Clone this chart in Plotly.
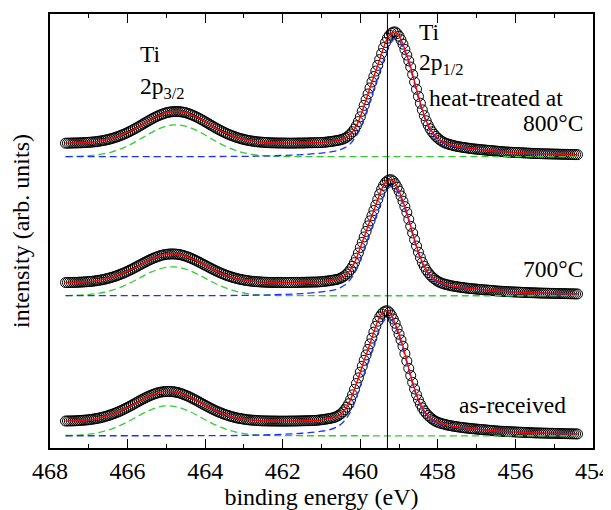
import numpy as np
import plotly.graph_objects as go

# ---------------- data (intensity above each spectrum's baseline, arb. units) -------------
# binding-energy sampling grid of the measured spectra (eV): 467.6 -> 454.4, 0.05 eV step
E_START, E_STEP, N_PTS = 467.6, 0.05, 265
energy = np.round(E_START - E_STEP * np.arange(N_PTS), 2)

data_800 = [
    13.5, 13.55, 13.6, 13.65, 13.7, 13.75, 13.8, 13.85, 13.9, 14.0,
    14.1, 14.25, 14.4, 14.55, 14.7, 14.9, 15.1, 15.4, 15.7, 16.05,
    16.4, 16.8, 17.2, 17.75, 18.3, 18.9, 19.5, 20.2, 20.9, 21.7,
    22.5, 23.35, 24.2, 25.2, 26.2, 27.25, 28.3, 29.4, 30.5, 31.65,
    32.8, 33.95, 35.1, 36.2, 37.3, 38.35, 39.4, 40.3, 41.2, 42.0,
    42.8, 43.5, 44.1, 44.55, 44.9, 45.15, 45.3, 45.35, 45.3, 45.15,
    44.9, 44.55, 44.1, 43.5, 42.8, 42.0, 41.2, 40.3, 39.4, 38.35,
    37.3, 36.2, 35.1, 33.95, 32.8, 31.65, 30.5, 29.4, 28.3, 27.25,
    26.2, 25.2, 24.2, 23.35, 22.5, 21.7, 20.9, 20.2, 19.5, 18.9,
    18.3, 17.75, 17.2, 16.8, 16.4, 16.05, 15.7, 15.4, 15.1, 14.9,
    14.7, 14.55, 14.4, 14.25, 14.1, 14.0, 13.9, 13.85, 13.8, 13.75,
    13.7, 13.7, 13.7, 13.65, 13.6, 13.6, 13.6, 13.6, 13.6, 13.65,
    13.7, 13.7, 13.7, 13.75, 13.8, 13.85, 13.9, 13.95, 14.0, 14.05,
    14.1, 14.15, 14.2, 14.35, 14.5, 14.75, 15.0, 15.25, 15.5, 15.85,
    16.2, 16.55, 17.0, 17.6, 18.5, 19.6, 21.0, 22.8, 25.0, 27.7,
    31.0, 35.2, 40.0, 45.6, 51.5, 57.2, 63.0, 69.0, 75.0, 80.5,
    86.0, 91.7, 97.5, 103.6, 109.5, 114.7, 119.0, 122.0, 124.0, 125.1,
    125.3, 123.7, 121.0, 117.3, 113.0, 107.7, 102.0, 96.2, 90.0, 82.5,
    75.0, 67.7, 60.5, 53.6, 47.0, 41.2, 36.0, 31.7, 28.0, 25.0,
    22.5, 20.3, 18.5, 16.9, 15.5, 14.4, 13.5, 12.8, 12.2, 11.7,
    11.2, 10.7, 10.3, 9.95, 9.6, 9.3, 9.0, 8.7, 8.4, 8.15,
    7.9, 7.7, 7.5, 7.3, 7.1, 6.9, 6.7, 6.5, 6.3, 6.15,
    6.0, 5.8, 5.6, 5.4, 5.2, 5.05, 4.9, 4.75, 4.6, 4.5,
    4.4, 4.3, 4.2, 4.1, 4.0, 3.9, 3.8, 3.7, 3.6, 3.5,
    3.4, 3.3, 3.2, 3.15, 3.1, 3.0, 2.9, 2.85, 2.8, 2.75,
    2.7, 2.65, 2.6, 2.55, 2.5, 2.45, 2.4, 2.35, 2.3, 2.25,
    2.2, 2.15, 2.1, 2.05, 2.0]

data_700 = [
    13.2, 13.25, 13.3, 13.3, 13.35, 13.4, 13.45, 13.55, 13.65, 13.75,
    13.9, 14.05, 14.2, 14.35, 14.55, 14.8, 15.1, 15.4, 15.7, 16.1,
    16.45, 16.95, 17.45, 18.0, 18.5, 19.15, 19.8, 20.5, 21.25, 22.0,
    22.8, 23.7, 24.6, 25.55, 26.5, 27.5, 28.5, 29.55, 30.6, 31.6,
    32.65, 33.65, 34.65, 35.6, 36.55, 37.35, 38.2, 38.9, 39.65, 40.25,
    40.8, 41.2, 41.55, 41.75, 41.9, 41.95, 41.9, 41.75, 41.55, 41.2,
    40.8, 40.25, 39.65, 38.9, 38.2, 37.35, 36.55, 35.6, 34.65, 33.65,
    32.65, 31.6, 30.6, 29.55, 28.5, 27.5, 26.5, 25.55, 24.6, 23.7,
    22.8, 22.0, 21.25, 20.5, 19.8, 19.15, 18.5, 18.0, 17.45, 16.95,
    16.45, 16.1, 15.7, 15.4, 15.1, 14.8, 14.55, 14.35, 14.2, 14.05,
    13.9, 13.75, 13.65, 13.55, 13.45, 13.4, 13.35, 13.3, 13.3, 13.3,
    13.35, 13.3, 13.25, 13.25, 13.25, 13.25, 13.25, 13.3, 13.35, 13.35,
    13.35, 13.4, 13.45, 13.5, 13.55, 13.6, 13.6, 13.65, 13.7, 13.75,
    13.8, 13.95, 14.1, 14.3, 14.55, 14.8, 15.0, 15.35, 15.65, 16.0,
    16.4, 16.95, 17.8, 18.8, 20.1, 21.8, 23.85, 26.35, 29.45, 33.2,
    37.7, 42.9, 48.4, 53.6, 59.0, 64.6, 70.15, 75.2, 80.3, 85.6,
    91.0, 96.6, 102.1, 106.9, 110.9, 113.7, 115.4, 116.4, 116.5, 115.0,
    112.5, 109.1, 105.1, 100.2, 94.9, 89.5, 83.7, 76.7, 69.75, 63.0,
    56.3, 49.85, 43.7, 38.3, 33.5, 29.5, 26.0, 23.25, 20.9, 18.9,
    17.2, 15.7, 14.4, 13.4, 12.55, 11.9, 11.35, 10.9, 10.4, 9.95,
    9.6, 9.25, 8.95, 8.65, 8.35, 8.1, 7.8, 7.6, 7.35, 7.15,
    7.0, 6.8, 6.6, 6.4, 6.25, 6.05, 5.85, 5.7, 5.6, 5.4,
    5.2, 5.0, 4.85, 4.7, 4.55, 4.4, 4.3, 4.2, 4.1, 4.0,
    3.9, 3.8, 3.7, 3.65, 3.55, 3.45, 3.35, 3.25, 3.15, 3.05,
    3.0, 2.95, 2.9, 2.8, 2.7, 2.65, 2.6, 2.55, 2.5, 2.45,
    2.4, 2.35, 2.3, 2.3, 2.25, 2.2, 2.15, 2.1, 2.05, 2.0,
    1.95, 1.9, 1.85, 1.8, 1.75]

data_asrec = [
    14.8, 14.85, 14.9, 14.9, 14.95, 15.05, 15.15, 15.3, 15.45, 15.6,
    15.7, 15.9, 16.1, 16.4, 16.65, 17.0, 17.3, 17.7, 18.05, 18.6,
    19.1, 19.65, 20.25, 20.9, 21.55, 22.3, 23.05, 23.85, 24.65, 25.6,
    26.55, 27.5, 28.5, 29.55, 30.55, 31.65, 32.75, 33.8, 34.9, 35.95,
    36.95, 37.95, 38.95, 39.8, 40.65, 41.4, 42.15, 42.8, 43.35, 43.8,
    44.1, 44.35, 44.5, 44.55, 44.5, 44.35, 44.1, 43.8, 43.35, 42.8,
    42.15, 41.4, 40.65, 39.8, 38.95, 37.95, 36.95, 35.95, 34.9, 33.8,
    32.75, 31.65, 30.55, 29.55, 28.5, 27.5, 26.55, 25.6, 24.65, 23.85,
    23.05, 22.3, 21.55, 20.9, 20.25, 19.65, 19.1, 18.6, 18.05, 17.7,
    17.3, 17.0, 16.65, 16.4, 16.1, 15.9, 15.7, 15.6, 15.45, 15.3,
    15.15, 15.05, 14.95, 14.95, 14.9, 14.85, 14.8, 14.8, 14.8, 14.75,
    14.7, 14.7, 14.7, 14.7, 14.7, 14.75, 14.8, 14.8, 14.8, 14.85,
    14.9, 14.95, 15.0, 15.05, 15.1, 15.15, 15.2, 15.25, 15.3, 15.45,
    15.6, 15.85, 16.1, 16.35, 16.6, 16.95, 17.3, 17.65, 18.1, 18.7,
    19.6, 20.7, 22.1, 23.9, 26.1, 28.8, 32.1, 36.3, 41.1, 46.6,
    52.5, 58.1, 63.9, 69.8, 75.8, 81.2, 86.7, 92.3, 98.1, 104.1,
    110.0, 115.1, 119.4, 122.3, 124.3, 125.3, 125.5, 123.8, 121.1, 117.3,
    113.0, 107.7, 102.0, 96.2, 90.0, 82.5, 75.0, 67.7, 60.5, 53.6,
    47.0, 41.2, 36.0, 31.7, 28.0, 25.0, 22.5, 20.3, 18.5, 16.9,
    15.5, 14.4, 13.5, 12.8, 12.2, 11.7, 11.2, 10.7, 10.3, 9.95,
    9.6, 9.3, 9.0, 8.7, 8.4, 8.15, 7.9, 7.7, 7.5, 7.3,
    7.1, 6.9, 6.7, 6.5, 6.3, 6.15, 6.0, 5.8, 5.6, 5.4,
    5.2, 5.05, 4.9, 4.75, 4.6, 4.5, 4.4, 4.3, 4.2, 4.1,
    4.0, 3.9, 3.8, 3.7, 3.6, 3.5, 3.4, 3.3, 3.2, 3.15,
    3.1, 3.0, 2.9, 2.85, 2.8, 2.75, 2.7, 2.65, 2.6, 2.55,
    2.5, 2.45, 2.4, 2.35, 2.3, 2.25, 2.2, 2.15, 2.1, 2.05,
    2.0, 1.95, 1.9, 1.85, 1.8]

# green dashed component (broad peak near 465 eV)
green_energy = [467.6, 467.4, 467.2, 467.0, 466.8, 466.6, 466.4, 466.2, 466.0, 465.8,
                465.6, 465.4, 465.2, 465.0, 464.8, 464.6, 464.4, 464.2, 464.0, 463.8,
                463.6, 463.4, 463.2, 463.0, 462.8, 462.6, 462.4, 462.2, 462.0, 454.4]
green_800 = [0.1, 0.25, 0.5, 0.96, 1.74, 3.0, 4.86, 7.46, 10.8, 14.9,
             19.4, 23.9, 27.8, 30.7, 31.9, 31.5, 29.4, 26.0, 21.7, 17.1,
             12.8, 9.1, 6.1, 3.8, 2.3, 1.3, 0.7, 0.35, 0.17, 0.0]
green_700 = [0.15, 0.32, 0.63, 1.18, 2.08, 3.48, 5.49, 8.21, 11.6, 15.5,
             19.7, 23.6, 26.6, 28.5, 28.9, 27.8, 25.2, 21.7, 17.6, 13.5,
             9.8, 6.76, 4.4, 2.72, 1.58, 0.87, 0.45, 0.23, 0.09, 0.0]
green_asrec = [0.24, 0.47, 0.9, 1.64, 2.82, 4.57, 7.01, 10.2, 14.0, 18.2,
               22.5, 26.1, 28.9, 30.0, 29.6, 27.6, 24.4, 20.4, 16.1, 12.0,
               8.6, 5.7, 3.6, 2.2, 1.2, 0.66, 0.33, 0.16, 0.08, 0.0]

# blue dashed component (main peak near 459 eV)
blue_energy = [467.6, 464.0, 463.0, 462.5, 462.0, 461.5, 461.0, 460.8, 460.6,
               460.5, 460.4, 460.3, 460.2, 460.1, 460.0, 459.9, 459.8, 459.7, 459.6,
               459.5, 459.4, 459.3, 459.2, 459.1, 459.0, 458.9, 458.8, 458.7, 458.6,
               458.5, 458.4, 458.3, 458.2, 458.1, 458.0, 457.9, 457.8, 457.7, 457.6,
               457.5, 457.4, 457.3, 457.2, 457.1, 457.0,
               456.5, 456.0, 455.5, 455.0, 454.4]
blue_800 = [0.0, 0.1, 0.3, 0.6, 1.2, 2.0, 3.6, 4.6, 6.0,
            7.2, 9.0, 11.5, 15.5, 21.0, 28.0, 38.5, 50.0, 62.0, 73.5,
            85.0, 97.0, 107.5, 115.0, 118.5, 116.5, 110.0, 99.5, 87.5, 73.0,
            58.5, 45.5, 34.5, 26.5, 21.0, 17.2, 14.4, 12.6, 11.4, 10.5,
            9.7, 9.1, 8.6, 8.1, 7.7, 7.3,
            5.4, 4.0, 3.0, 2.4, 1.8]
blue_700 = [0.0, 0.1, 0.3, 0.65, 1.25, 2.1, 3.8, 4.9, 6.7,
            8.4, 10.7, 14.4, 19.5, 26.0, 35.8, 46.5, 57.7, 68.4, 79.1,
            90.2, 100.0, 107.0, 110.2, 108.3, 102.3, 92.5, 81.4, 67.9, 54.4,
            42.3, 32.1, 24.6, 19.5, 16.0, 13.4, 11.7, 10.6, 9.8, 9.0,
            8.5, 8.0, 7.5, 7.2, 6.8, 6.4,
            4.7, 3.5, 2.7, 2.1, 1.7]
blue_asrec = [0.0, 0.1, 0.35, 0.75, 1.5, 2.5, 4.6, 6.0, 9.0,
              11.5, 15.5, 21.0, 28.0, 38.5, 50.0, 62.0, 73.5, 85.0, 97.0,
              107.5, 115.0, 118.5, 116.5, 110.0, 99.5, 87.5, 73.0, 58.5, 45.5,
              34.5, 26.5, 21.0, 17.2, 14.4, 12.6, 11.4, 10.5, 9.7, 9.1,
              8.6, 8.1, 7.7, 7.3, 6.9, 6.5,
              4.8, 3.6, 2.8, 2.2, 1.8]

# vertical stacking offsets of the three spectra (arb. units)
offsets = {"800": 292.7, "700": 153.0, "asrec": 12.3}
ref_line_energy = 459.3
x_ticks = [468, 466, 464, 462, 460, 458, 456, 454]

spectra = [
    ("800", data_800, green_800, blue_800),
    ("700", data_700, green_700, blue_700),
    ("asrec", data_asrec, green_asrec, blue_asrec),
]

# ---------------- figure -------------
FONT = "Liberation Serif, Times New Roman, serif"
fig = go.Figure()

for key, d, g, b in spectra:
    off = offsets[key]
    assert len(d) == N_PTS, (key, len(d))
    y_d = np.array(d) + off
    fig.add_trace(go.Scatter(x=energy, y=y_d, mode="markers",
                             marker=dict(symbol="circle-open", size=10, color="black",
                                         line=dict(width=1, color="black")),
                             showlegend=False, hoverinfo="skip"))
    fig.add_trace(go.Scatter(x=green_energy, y=np.array(g) + off, mode="lines",
                             line=dict(color="#33cc33", width=1.3, dash="7px,4px", shape="spline"),
                             showlegend=False, hoverinfo="skip"))
    fig.add_trace(go.Scatter(x=blue_energy, y=np.array(b) + off, mode="lines",
                             line=dict(color="#1a33ff", width=1.3, dash="7px,4px", shape="spline"),
                             showlegend=False, hoverinfo="skip"))
    fig.add_trace(go.Scatter(x=energy, y=y_d, mode="lines",
                             line=dict(color="#ff0000", width=1.4, shape="spline"),
                             showlegend=False, hoverinfo="skip"))

fig.add_shape(type="line", x0=ref_line_energy, x1=ref_line_energy, xref="x",
              y0=0, y1=1, yref="paper", line=dict(color="black", width=1))

ANN_SIZE = 23.5

def ann(text, x, y, xanchor="left"):
    fig.add_annotation(text=text, x=x, y=y, xref="x", yref="y", showarrow=False,
                       xanchor=xanchor, yanchor="middle",
                       font=dict(family=FONT, size=ANN_SIZE, color="black"))

ann("Ti", 465.72, 396)
ann("2p<sub>3/2</sub>", 465.73, 362)
ann("Ti", 458.54, 418)
ann("2p<sub>1/2</sub>", 458.54, 386)
ann("heat-treated at", 458.28, 352)
ann("800°C", 454.21, 327, "right")
ann("700°C", 454.21, 180, "right")
ann("as-received", 454.65, 43, "right")

# the page body keeps its default 8px margin, so the margins are shifted by 8px
fig.update_layout(
    width=611, height=510,
    margin=dict(l=42, r=26, t=4, b=70),
    paper_bgcolor="white", plot_bgcolor="white",
    font=dict(family=FONT, size=24, color="black"),
    showlegend=False,
)
fig.update_xaxes(range=[468, 454], tickvals=x_ticks, ticks="inside", ticklen=9,
                 tickwidth=1.2, tickcolor="black",
                 minor=dict(dtick=1, ticks="inside", ticklen=4, tickwidth=1.2, tickcolor="black"),
                 showline=True, linecolor="black", linewidth=1.5, mirror="ticks",
                 showgrid=False, zeroline=False,
                 tickfont=dict(family=FONT, size=24),
                 title=dict(text="binding energy (eV)", font=dict(family=FONT, size=24), standoff=6))
fig.update_yaxes(range=[0, 436], showticklabels=False, ticks="",
                 showline=True, linecolor="black", linewidth=1.5, mirror=True,
                 showgrid=False, zeroline=False,
                 title=dict(text="intensity (arb. units)", font=dict(family=FONT, size=24), standoff=14))

fig.write_html("out.html",
               config={"displayModeBar": False, "responsive": False},
               post_script="document.documentElement.style.overflow='hidden';")
